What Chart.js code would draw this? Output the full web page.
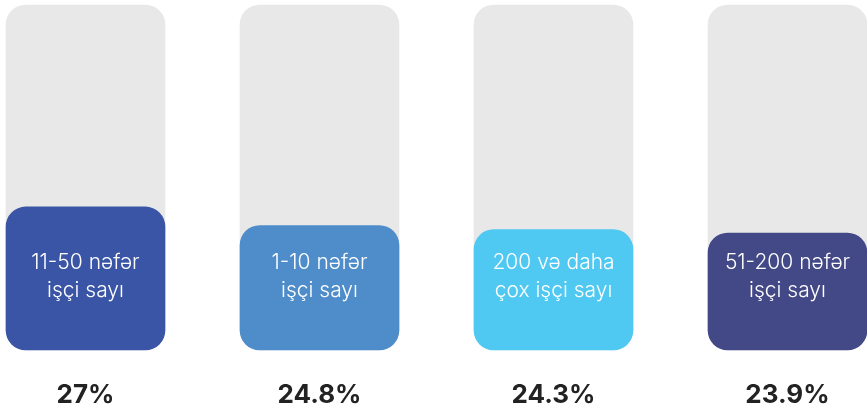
<!DOCTYPE html>
<html>
<head>
<meta charset="utf-8">
<script src="https://cdn.jsdelivr.net/npm/chart.js@4.4.1/dist/chart.umd.min.js"></script>
<style>
  body { margin: 0; background: #fff; }
  canvas { display: block; }
</style>
</head>
<body>
<canvas id="chart" width="867" height="410"></canvas>
<script>
// Datos del gráfico
const categorias = [
    ['11-50 nəfər', 'işçi sayı'],
    ['1-10 nəfər', 'işçi sayı'],
    ['200 və daha', 'çox işçi sayı'],
    ['51-200 nəfər', 'işçi sayı']
];
const valores = [27, 24.8, 24.3, 23.9];
const etiquetasPct = ['27%', '24.8%', '24.3%', '23.9%'];
const colores = ['#3a55a5', '#4e8dca', '#4fc9f1', '#434886'];

// Rango de la escala (el fondo gris llega hasta el máximo)
const escalaMin = 10;
const escalaMax = 51;
const fondo = valores.map(() => escalaMax);

// Plugin para dibujar los textos dentro de las barras y los porcentajes debajo
const textosPlugin = {
    id: 'textos',
    afterDatasetsDraw(chart) {
        const ctx = chart.ctx;
        const x = chart.scales.x;
        const area = chart.chartArea;
        ctx.save();
        ctx.textAlign = 'center';
        ctx.textBaseline = 'middle';
        categorias.forEach((lineas, i) => {
            const px = x.getPixelForValue(i);
            ctx.fillStyle = '#ffffff';
            ctx.font = '300 21px Inter';
            lineas.forEach((linea, j) => {
                ctx.fillText(linea, px, area.bottom - 87 + j * 28);
            });
            ctx.fillStyle = '#222222';
            ctx.font = 'bold 26px Inter';
            ctx.fillText(etiquetasPct[i], px, area.bottom + 45);
        });
        ctx.restore();
    }
};

new Chart(document.getElementById('chart'), {
    type: 'bar',
    data: {
        labels: categorias.map(c => c.join(' ')),
        datasets: [
            {
                label: 'Valor',
                data: valores,
                base: escalaMin,
                backgroundColor: colores,
                borderRadius: 20,
                borderSkipped: false,
                barThickness: 159,
                grouped: false,
                clip: false
            },
            {
                label: 'Fondo',
                data: fondo,
                base: escalaMin,
                backgroundColor: '#e8e8e8',
                borderRadius: 20,
                borderSkipped: false,
                barThickness: 159,
                grouped: false,
                clip: false
            }
        ]
    },
    options: {
        responsive: false,
        animation: false,
        layout: {
            padding: { top: 5, bottom: 60, left: 85.5, right: 79.5 }
        },
        scales: {
            x: {
                display: false,
                offset: false
            },
            y: {
                display: false,
                min: escalaMin,
                max: escalaMax
            }
        },
        plugins: {
            legend: { display: false },
            tooltip: { enabled: false }
        }
    },
    plugins: [textosPlugin]
});
</script>
</body>
</html>
